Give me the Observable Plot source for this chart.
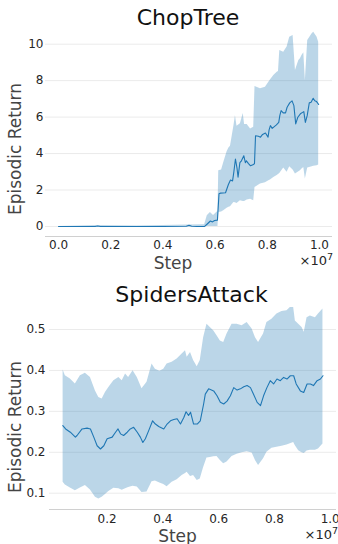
<!DOCTYPE html>
<html><head><meta charset="utf-8">
<script src="https://cdn.jsdelivr.net/npm/d3@7"></script>
<script src="https://cdn.jsdelivr.net/npm/@observablehq/plot@0.6"></script>
<style>
html,body{margin:0;padding:0;background:#fff}
body{width:338px;height:544px;position:relative;overflow:hidden;font-family:"DejaVu Sans",sans-serif}
.abs{position:absolute;white-space:nowrap}
.title{font-size:22px;line-height:22px;color:#111;transform:translateX(-50%)}
.xlab{font-size:17px;line-height:17px;color:#444;transform:translateX(-50%)}
.ylab{font-size:17px;line-height:17px;color:#444;transform:translate(-50%,-50%) rotate(-90deg)}
.off{font-size:13px;line-height:13px;color:#262626}
.off span{font-size:9.5px;position:relative;top:-5px}
</style></head><body>
<div id="c1" class="abs" style="left:0;top:0"></div>
<div id="c2" class="abs" style="left:0;top:296px"></div>
<div class="abs title" style="left:188px;top:7.4px">ChopTree</div>
<div class="abs title" style="left:191.5px;top:284.1px">SpidersAttack</div>
<div class="abs xlab" style="left:173px;top:255px">Step</div>
<div class="abs xlab" style="left:177.5px;top:527.6px">Step</div>
<div class="abs ylab" style="left:14.5px;top:149px">Episodic Return</div>
<div class="abs ylab" style="left:14.5px;top:427px">Episodic Return</div>
<div class="abs off" style="right:5px;top:254px">×10<span>7</span></div>
<div class="abs off" style="right:0px;top:528px">×10<span>7</span></div>
<script>
// ---- ChopTree (steps in units of 1e7) ----
const chopLineStep = [0,0.05,0.1,0.14,0.15,0.16,0.2,0.3,0.4,0.49,0.5,0.51,0.53,0.56,0.571,0.582,0.59,0.598,0.609,0.615,0.621,0.64,0.651,0.659,0.667,0.672,0.678,0.684,0.688,0.695,0.701,0.71,0.716,0.72,0.728,0.736,0.747,0.751,0.755,0.766,0.774,0.782,0.793,0.803,0.807,0.812,0.819,0.828,0.835,0.844,0.848,0.853,0.861,0.87,0.876,0.886,0.895,0.902,0.909,0.917,0.927,0.94,0.946,0.953,0.961,0.968,0.976,0.982,0.989,0.997];
const chopMean = [0,0,0,0,0.03,0,0,0,0,0.01,0.06,0.01,0,0,0.15,0.3,0.25,0.33,0.35,1.8,1.83,1.85,2.3,2.55,2.5,3.0,3.7,3.2,2.7,3.5,3.6,3.88,3.5,3.6,3.45,3.33,3.4,3.45,4.98,4.95,4.9,5.05,5.13,4.9,5.3,5.53,5.38,5.49,5.57,5.71,6.08,6.36,6.23,6.23,6.54,6.78,6.89,6.63,5.63,5.99,6.18,6.3,5.71,6.08,6.78,6.81,7.03,6.9,6.85,6.69];
const chopBandStep = [0,0.15,0.3,0.5,0.56,0.57,0.582,0.594,0.608,0.611,0.614,0.625,0.633,0.646,0.653,0.659,0.672,0.678,0.684,0.697,0.708,0.713,0.723,0.736,0.748,0.753,0.774,0.793,0.806,0.812,0.825,0.838,0.843,0.848,0.863,0.876,0.886,0.899,0.908,0.921,0.927,0.933,0.94,0.946,0.955,0.972,0.978,0.991,0.997];
const chopLow = [0,0,0,0,0,0,0,0,0,0,0.77,0.8,0.86,1.0,1.05,1.08,1.32,1.3,1.26,1.41,1.37,1.37,1.45,1.5,1.41,2.14,2.33,2.4,2.51,2.55,2.69,2.8,2.85,2.9,3.21,2.97,3.28,3.1,2.88,3.0,3.06,3.15,3.24,2.6,3.21,3.28,3.3,3.33,3.37];
const chopHigh = [0,0.05,0.02,0.08,0.1,0.59,0.77,0.6,0.8,0.8,3.06,3.1,3.5,4.1,4.3,4.4,5.5,6.08,5.5,5.63,6.2,5.6,5.6,5.35,5.44,7.68,7.55,7.64,7.91,8.04,8.28,8.46,8.5,9.65,9.56,9.84,10.38,10.48,8.55,9.1,9.2,9.38,9.53,8.0,10.2,10.57,10.66,10.38,10.1];
const chopXTicks = [0,0.2,0.4,0.6,0.8,1.0];
const chopYTicks = [0,2,4,6,8,10];

// ---- SpidersAttack ----
const spLineStep = [0.041,0.051,0.068,0.086,0.092,0.11,0.128,0.14,0.152,0.164,0.176,0.188,0.2,0.218,0.23,0.239,0.248,0.259,0.272,0.283,0.295,0.308,0.319,0.328,0.337,0.349,0.363,0.373,0.385,0.403,0.415,0.427,0.439,0.451,0.463,0.475,0.483,0.492,0.499,0.51,0.523,0.534,0.546,0.552,0.564,0.582,0.594,0.606,0.618,0.63,0.642,0.654,0.666,0.678,0.69,0.702,0.714,0.725,0.738,0.75,0.761,0.773,0.785,0.797,0.809,0.821,0.833,0.845,0.857,0.869,0.878,0.893,0.905,0.917,0.929,0.94,0.953,0.965,0.974];
const spMean = [0.265,0.257,0.249,0.237,0.241,0.257,0.259,0.257,0.237,0.216,0.208,0.216,0.233,0.237,0.249,0.257,0.245,0.241,0.249,0.257,0.261,0.249,0.237,0.224,0.233,0.253,0.277,0.269,0.263,0.257,0.269,0.277,0.28,0.282,0.269,0.285,0.299,0.29,0.298,0.269,0.269,0.277,0.318,0.342,0.355,0.35,0.338,0.322,0.318,0.325,0.338,0.358,0.352,0.355,0.36,0.363,0.358,0.342,0.322,0.314,0.338,0.358,0.375,0.367,0.379,0.375,0.383,0.379,0.387,0.387,0.367,0.35,0.346,0.367,0.367,0.363,0.375,0.379,0.387];
const spBandStep = [0.042,0.05,0.068,0.086,0.104,0.122,0.14,0.158,0.17,0.182,0.194,0.206,0.224,0.242,0.254,0.266,0.277,0.293,0.308,0.325,0.343,0.361,0.373,0.389,0.403,0.415,0.433,0.451,0.469,0.481,0.487,0.499,0.51,0.523,0.534,0.546,0.558,0.57,0.582,0.594,0.606,0.618,0.63,0.648,0.666,0.684,0.702,0.72,0.732,0.743,0.761,0.773,0.791,0.809,0.827,0.845,0.857,0.869,0.875,0.887,0.899,0.907,0.917,0.929,0.947,0.958,0.974];
const spHigh = [0.401,0.387,0.379,0.367,0.387,0.393,0.383,0.35,0.334,0.33,0.346,0.358,0.375,0.383,0.375,0.391,0.383,0.399,0.383,0.355,0.371,0.416,0.403,0.398,0.403,0.416,0.42,0.428,0.44,0.448,0.432,0.444,0.424,0.409,0.424,0.48,0.513,0.505,0.497,0.485,0.472,0.468,0.489,0.513,0.513,0.509,0.517,0.501,0.48,0.468,0.489,0.517,0.525,0.538,0.544,0.546,0.554,0.554,0.521,0.513,0.505,0.493,0.529,0.533,0.529,0.538,0.55];
const spLow = [0.127,0.12,0.113,0.106,0.113,0.119,0.108,0.09,0.086,0.09,0.097,0.104,0.112,0.111,0.107,0.111,0.114,0.117,0.115,0.102,0.103,0.128,0.13,0.125,0.121,0.116,0.127,0.133,0.143,0.148,0.151,0.141,0.143,0.131,0.135,0.163,0.186,0.187,0.189,0.19,0.18,0.172,0.176,0.19,0.195,0.199,0.201,0.198,0.18,0.168,0.184,0.2,0.21,0.212,0.215,0.218,0.221,0.224,0.216,0.204,0.199,0.197,0.203,0.205,0.205,0.208,0.22];
const spXTicks = [0.2,0.4,0.6,0.8,1.0];
const spYTicks = [0.1,0.2,0.3,0.4,0.5];

const BLUE = "#1f77b4";

function chart(o) {
  const band = o.bandStep.map((s, i) => ({s, lo: o.low[i], hi: o.high[i]}));
  const line = o.lineStep.map((s, i) => ({s, m: o.mean[i]}));
  return Plot.plot({
    width: 338, height: o.height,
    marginLeft: o.ml, marginRight: o.mr, marginTop: o.mt, marginBottom: o.mb,
    style: {fontFamily: "DejaVu Sans", fontSize: "12px", color: "#262626", background: "transparent", overflow: "visible"},
    x: {domain: o.xDomain, ticks: o.xTicks, tickFormat: d3.format(".1f"), tickSize: 0, tickPadding: o.xpad, label: null},
    y: {domain: o.yDomain, ticks: o.yTicks, tickFormat: o.yFormat, tickSize: 0, tickPadding: o.ypad, label: null},
    marks: [
      Plot.gridY(o.yTicks, {stroke: "#ebebeb", strokeOpacity: 1, strokeWidth: 1}),
      Plot.ruleY([o.yDomain[0]], {stroke: "#d0d0d0", strokeWidth: 1}),
      Plot.areaY(band, {x: "s", y1: "lo", y2: "hi", fill: BLUE, fillOpacity: 0.3, curve: "linear"}),
      Plot.lineY(line, {x: "s", y: "m", stroke: BLUE, strokeWidth: 1.1})
    ]
  });
}

document.getElementById("c1").append(chart({
  height: 275, ml: 45, mr: 6, mt: 30, mb: 39,
  xDomain: [-0.05, 1.05], yDomain: [-0.55, 10.75],
  xTicks: chopXTicks, yTicks: chopYTicks, yFormat: d3.format("d"),
  xpad: 4, ypad: 2,
  lineStep: chopLineStep, mean: chopMean,
  bandStep: chopBandStep, low: chopLow, high: chopHigh
}));
document.getElementById("c2").append(chart({
  height: 248, ml: 49, mr: 2, mt: 10, mb: 35,
  xDomain: [-0.0068, 1.0226], yDomain: [0.0602, 0.5562],
  xTicks: spXTicks, yTicks: spYTicks, yFormat: d3.format(".1f"),
  xpad: 5, ypad: 4,
  lineStep: spLineStep, mean: spMean,
  bandStep: spBandStep, low: spLow, high: spHigh
}));
</script>
</body></html>
